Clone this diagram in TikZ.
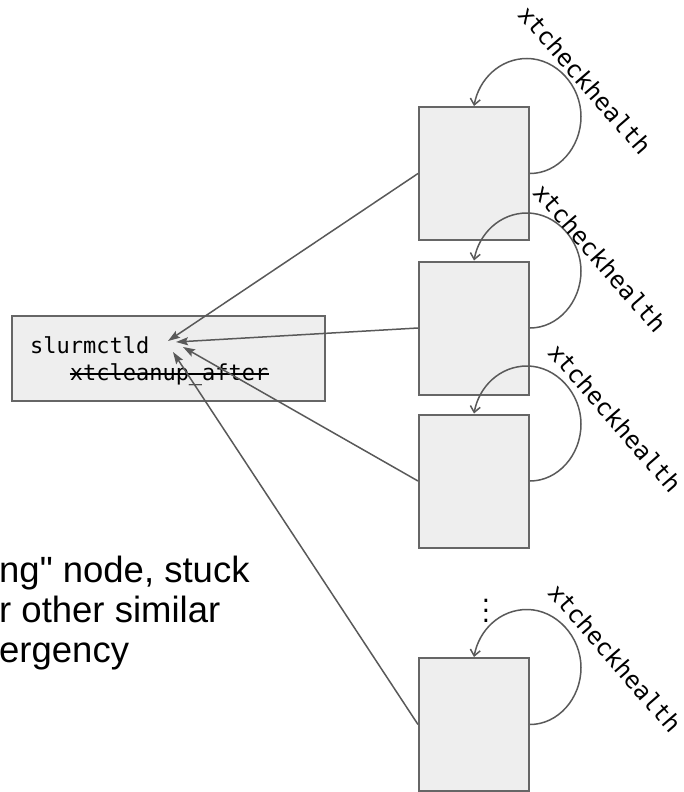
\documentclass[tikz,border=0pt]{standalone}
\usepackage{fontspec}
\usetikzlibrary{arrows.meta}
\newfontfamily\monof{DejaVu Sans Mono}
\newfontfamily\sansf{Liberation Sans}
\definecolor{linegray}{RGB}{89,89,89}
\definecolor{boxfill}{RGB}{238,238,238}
\definecolor{boxborder}{RGB}{102,102,102}
\begin{document}
\begin{tikzpicture}[x=1pt,y=-1pt,
  hostbox/.style={draw=boxborder, fill=boxfill, line width=2pt, minimum width=110pt, minimum height=133pt, inner sep=0pt},
  ctlbox/.style={draw=boxborder, fill=boxfill, line width=2pt, minimum width=313pt, minimum height=85pt, inner sep=0pt},
  monotext/.style={font=\monof\fontsize{22}{26}\selectfont, inner sep=0pt, anchor=base west},
  bigtext/.style={font=\sansf\fontsize{36.5}{40}\selectfont, inner sep=0pt, anchor=base west},
  looplabel/.style={font=\monof\fontsize{24}{28}\selectfont, inner sep=0pt, rotate=-49},
  conn/.style={draw=linegray, line width=1.5pt, -{Stealth[length=12pt,width=8pt,inset=2pt]}},
  selfloop/.style={draw=linegray, line width=1.5pt, -{Straight Barb[length=6pt,width=10pt]}},
  strike/.style={draw=black, line width=1.6pt}
]
\useasboundingbox (0,0) rectangle (684,792);

% controller box
\node[ctlbox] (ctl) at (168.5,358.5) {};
\node[monotext] (ctlname) at (30,353) {slurmctld};
\node[monotext] (ctlsub) at (69.6,380) {xtcleanup\_after};
\draw[strike] ([yshift=6pt]ctlsub.base west) -- ([yshift=6pt]ctlsub.base east);

% host boxes
\node[hostbox] (b1) at (474,173.5) {};
\node[hostbox] (b2) at (474,328) {};
\node[hostbox] (b3) at (474,481) {};
\node[hostbox] (b4) at (474,724.5) {};

% arrow tips inside controller box
\coordinate (t1) at (168,341);
\coordinate (t2) at (176,342);
\coordinate (t3) at (183,347);
\coordinate (t4) at (173,352);

\draw[conn] (b1.west) -- (t1);
\draw[conn] (b2.west) -- (t2);
\draw[conn] (b3.west) -- (t3);
\draw[conn] (b4.west) -- (t4);

% self loops
\foreach \b in {b1,b2,b3,b4}{
  \draw[selfloop] (\b.east) .. controls +(28,0) and +(0,31) .. ++(51,-57)
     .. controls +(0,-31) and +(29,0) .. ++(-54,-58)
     .. controls +(-27,0) and +(5,-27) .. (\b.north);
}

% loop labels
\node[looplabel] (h1) at (585,80) {xtcheckhealth};
\node[looplabel] (h2) at (600,258) {xtcheckhealth};
\node[looplabel] (h3) at (615,418) {xtcheckhealth};
\node[looplabel] (h4) at (615,658) {xtcheckhealth};

% ellipsis
\node[font=\monof\fontsize{22}{10}\selectfont, inner sep=0pt, align=center] (dots) at (486,611) {.\\.\\.};

% clipped left text
\node[bigtext] (txt1) at (-1,582) {ng" node, stuck};
\node[bigtext] (txt2) at (-1,622) {r other similar};
\node[bigtext] (txt3) at (-1,662) {ergency};
\end{tikzpicture}
\end{document}
